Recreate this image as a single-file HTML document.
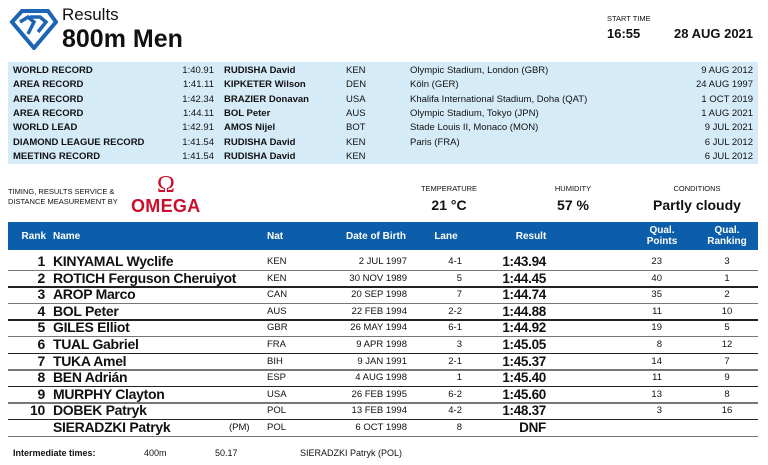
<!DOCTYPE html>
<html><head><meta charset="utf-8"><style>
*{margin:0;padding:0;box-sizing:border-box}
body{width:768px;height:465px;background:#fff;font-family:"Liberation Sans",sans-serif;color:#111;position:relative;overflow:hidden}
.a{position:absolute;white-space:nowrap}
.rec{position:absolute;left:8px;top:62px;width:750px;height:102px;background:#d6ebf8}
.rr{font-size:9.5px;font-weight:bold}
.rn{font-size:9.5px}
.hd{position:absolute;left:8px;top:222px;width:750px;height:28px;background:#0d5eaa}
.h{color:#fff;font-weight:bold;font-size:10px;text-align:center;line-height:11px}
.line{position:absolute;left:8px;width:750px;height:1.5px;background:#444}
.nm{font-size:14px;font-weight:bold;letter-spacing:-0.3px}
.sm{font-size:9.5px}
.res{font-size:13.5px;font-weight:bold;letter-spacing:-0.3px}
</style></head><body>
<svg class="a" style="left:8px;top:8px" width="50" height="42" viewBox="0 0 50 42">
<path d="M4 14 L14 3 L40 3 L48 14 L26 40 Z" fill="none" stroke="#1c64b4" stroke-width="4" stroke-linejoin="miter"/>
<path d="M12 14 L20 9 L26 14 L20 26" fill="none" stroke="#1c64b4" stroke-width="3.5"/>
<path d="M22 9 L32 9 L38 14 L30 24" fill="none" stroke="#1c64b4" stroke-width="3.5"/>
</svg>
<div class="a" style="left:62px;top:5px;font-size:17px">Results</div>
<div class="a" style="left:62px;top:25px;font-size:25px;font-weight:bold">800m Men</div>
<div class="a" style="left:607px;top:14px;font-size:7.5px">START TIME</div>
<div class="a" style="left:607px;top:26px;font-size:13px;font-weight:bold">16:55</div>
<div class="a" style="left:674px;top:26px;font-size:13px;font-weight:bold">28 AUG 2021</div>
<div class="rec"></div>
<div id="recs"></div>
<div class="a" style="left:8px;top:187px;font-size:7.5px;line-height:9.5px">TIMING, RESULTS SERVICE &amp;<br>DISTANCE MEASUREMENT BY</div>
<div class="a" style="left:157px;top:172px;font-size:24px;color:#c8102e;font-family:'Liberation Serif',serif">Ω</div>
<div class="a" style="left:131px;top:196px;font-size:18px;color:#c8102e;letter-spacing:0.3px;font-weight:bold">OMEGA</div>
<div class="a" style="left:409px;top:184px;width:80px;text-align:center;font-size:7.5px">TEMPERATURE</div>
<div class="a" style="left:409px;top:197px;width:80px;text-align:center;font-size:14px;font-weight:bold">21 °C</div>
<div class="a" style="left:533px;top:184px;width:80px;text-align:center;font-size:7.5px">HUMIDITY</div>
<div class="a" style="left:533px;top:197px;width:80px;text-align:center;font-size:14px;font-weight:bold">57 %</div>
<div class="a" style="left:637px;top:184px;width:120px;text-align:center;font-size:7.5px">CONDITIONS</div>
<div class="a" style="left:637px;top:197px;width:120px;text-align:center;font-size:14px;font-weight:bold">Partly cloudy</div>
<div class="hd"></div>
<div class="a h" style="left:14px;top:231px;width:32px;text-align:right">Rank</div>
<div class="a h" style="left:53px;top:231px;text-align:left">Name</div>
<div class="a h" style="left:267px;top:231px;text-align:left">Nat</div>
<div class="a h" style="left:336px;top:231px;width:80px">Date of Birth</div>
<div class="a h" style="left:426px;top:231px;width:40px">Lane</div>
<div class="a h" style="left:501px;top:231px;width:60px">Result</div>
<div class="a h" style="left:632px;top:225px;width:60px">Qual.<br>Points</div>
<div class="a h" style="left:697px;top:225px;width:60px">Qual.<br>Ranking</div>
<div id="rows"></div>
<div class="a" style="left:13px;top:448px;font-size:9px;font-weight:bold">Intermediate times:</div>
<div class="a" style="left:144px;top:448px;font-size:9px">400m</div>
<div class="a" style="left:215px;top:448px;font-size:9px">50.17</div>
<div class="a" style="left:300px;top:448px;font-size:9px">SIERADZKI Patryk (POL)</div>
<script>
var R=[["WORLD RECORD","1:40.91","RUDISHA David","KEN","Olympic Stadium, London (GBR)","9 AUG 2012"],
["AREA RECORD","1:41.11","KIPKETER Wilson","DEN","Köln (GER)","24 AUG 1997"],
["AREA RECORD","1:42.34","BRAZIER Donavan","USA","Khalifa International Stadium, Doha (QAT)","1 OCT 2019"],
["AREA RECORD","1:44.11","BOL Peter","AUS","Olympic Stadium, Tokyo (JPN)","1 AUG 2021"],
["WORLD LEAD","1:42.91","AMOS Nijel","BOT","Stade Louis II, Monaco (MON)","9 JUL 2021"],
["DIAMOND LEAGUE RECORD","1:41.54","RUDISHA David","KEN","Paris (FRA)","6 JUL 2012"],
["MEETING RECORD","1:41.54","RUDISHA David","KEN","","6 JUL 2012"]];
var h="";R.forEach(function(r,i){var t=65+i*14.3;
h+='<div class="a rr" style="left:13px;top:'+t+'px">'+r[0]+'</div>'+
'<div class="a rn" style="left:160px;width:54px;text-align:right;top:'+t+'px">'+r[1]+'</div>'+
'<div class="a rr" style="left:224px;top:'+t+'px">'+r[2]+'</div>'+
'<div class="a rn" style="left:346px;top:'+t+'px">'+r[3]+'</div>'+
'<div class="a rn" style="left:410px;top:'+t+'px">'+r[4]+'</div>'+
'<div class="a rn" style="left:653px;width:100px;text-align:right;top:'+t+'px">'+r[5]+'</div>';});
document.getElementById("recs").innerHTML=h;
var D=[["1","KINYAMAL Wyclife","","KEN","2 JUL 1997","4-1","1:43.94","23","3"],
["2","ROTICH Ferguson Cheruiyot","","KEN","30 NOV 1989","5","1:44.45","40","1"],
["3","AROP Marco","","CAN","20 SEP 1998","7","1:44.74","35","2"],
["4","BOL Peter","","AUS","22 FEB 1994","2-2","1:44.88","11","10"],
["5","GILES Elliot","","GBR","26 MAY 1994","6-1","1:44.92","19","5"],
["6","TUAL Gabriel","","FRA","9 APR 1998","3","1:45.05","8","12"],
["7","TUKA Amel","","BIH","9 JAN 1991","2-1","1:45.37","14","7"],
["8","BEN Adrián","","ESP","4 AUG 1998","1","1:45.40","11","9"],
["9","MURPHY Clayton","","USA","26 FEB 1995","6-2","1:45.60","13","8"],
["10","DOBEK Patryk","","POL","13 FEB 1994","4-2","1:48.37","3","16"],
["","SIERADZKI Patryk","(PM)","POL","6 OCT 1998","8","DNF","",""]];
h="";D.forEach(function(r,i){var t=253+i*16.6;
h+='<div class="a nm" style="left:10px;width:35px;text-align:right;top:'+t+'px">'+r[0]+'</div>'+
'<div class="a nm" style="left:53px;top:'+t+'px">'+r[1]+'</div>'+
'<div class="a sm" style="left:229px;top:'+(t+3)+'px">'+r[2]+'</div>'+
'<div class="a sm" style="left:267px;top:'+(t+3)+'px">'+r[3]+'</div>'+
'<div class="a sm" style="left:320px;width:87px;text-align:right;top:'+(t+3)+'px">'+r[4]+'</div>'+
'<div class="a sm" style="left:420px;width:42px;text-align:right;top:'+(t+3)+'px">'+r[5]+'</div>'+
'<div class="a res" style="left:476px;width:70px;text-align:right;top:'+(t+1)+'px">'+r[6]+'</div>'+
'<div class="a sm" style="left:620px;width:42px;text-align:right;top:'+(t+3)+'px">'+r[7]+'</div>'+
'<div class="a sm" style="left:697px;width:60px;text-align:center;top:'+(t+3)+'px">'+r[8]+'</div>'+
'<div class="line" style="top:'+(t+16.5)+'px;background:'+(i%2?'#222':'#777')+'"></div>';});
document.getElementById("rows").innerHTML=h;
</script>
</body></html>
